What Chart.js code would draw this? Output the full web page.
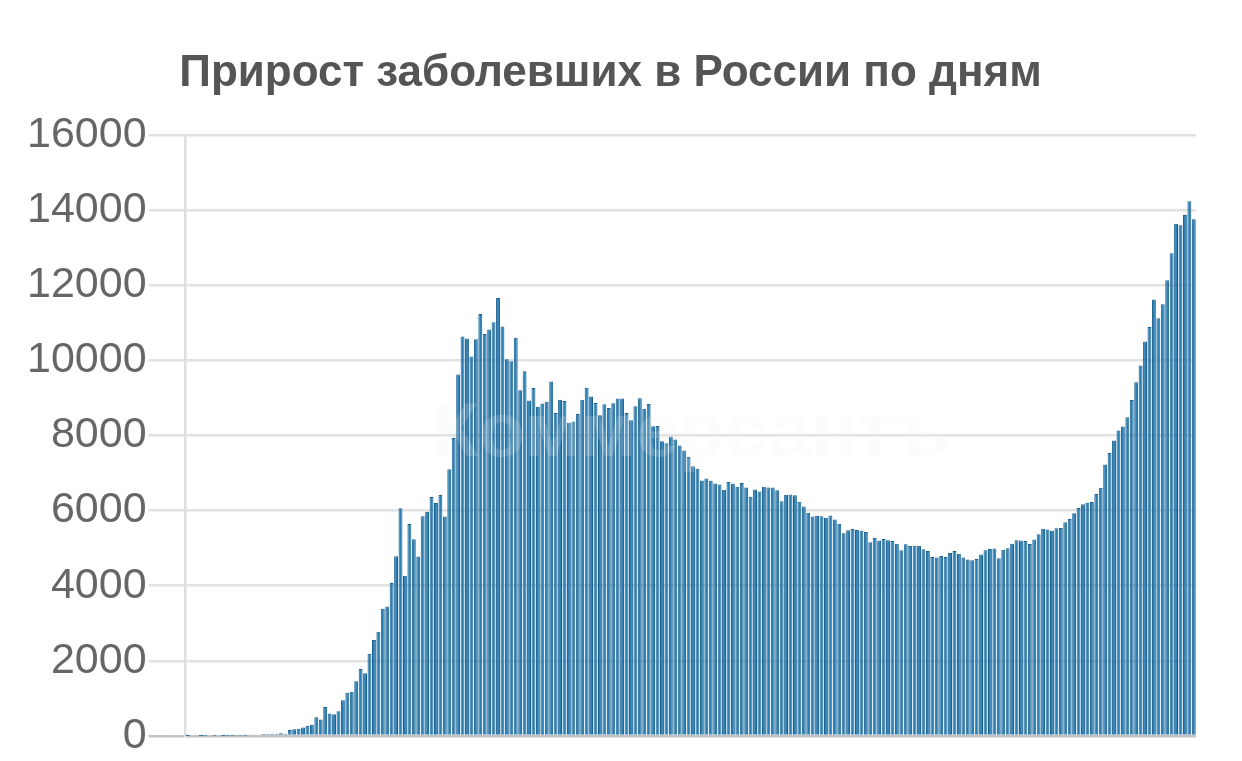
<!DOCTYPE html>
<html>
<head>
<meta charset="utf-8">
<script src="https://cdn.jsdelivr.net/npm/chart.js@4/dist/chart.umd.min.js"></script>
<style>
  html, body { margin: 0; padding: 0; background: #ffffff; }
  #wrap { width: 1242px; height: 761px; position: relative; }
</style>
</head>
<body>
<div id="wrap"><canvas id="c" width="1242" height="761"></canvas></div>
<script>
// Daily new cases, Russia, 2 Mar – 15 Oct 2020
const march = [1, 0, 0, 1, 9, 0, 4, 0, 3, 8, 6, 11, 14, 4, 27, 24, 33, 52, 54, 53, 61, 71, 57, 163, 182, 196, 228, 270, 302, 501];
const april = [440, 771, 601, 582, 658, 954, 1154, 1175, 1459, 1786, 1667, 2186, 2558, 2774, 3388, 3448, 4070, 4785, 6060, 4268, 5642, 5236, 4774, 5849, 5966, 6361, 6198, 6411, 5841, 7099];
const may = [7933, 9623, 10633, 10581, 10102, 10559, 11231, 10699, 10817, 11012, 11656, 10899, 10028, 9974, 10598, 9200, 9709, 8926, 9263, 8764, 8849, 8894, 9434, 8599, 8946, 8915, 8338, 8371, 8572, 8952, 9268];
const june = [9035, 8863, 8536, 8831, 8726, 8855, 8984, 8985, 8595, 8404, 8779, 8987, 8706, 8835, 8246, 8248, 7843, 7790, 7972, 7889, 7728, 7600, 7425, 7176, 7113, 6800, 6852, 6791, 6719, 6693];
const july = [6556, 6760, 6718, 6632, 6736, 6611, 6368, 6562, 6509, 6635, 6615, 6611, 6537, 6248, 6422, 6428, 6406, 6234, 6109, 5940, 5842, 5862, 5848, 5811, 5871, 5765, 5650, 5395, 5475, 5509, 5482];
const august = [5462, 5427, 5159, 5267, 5204, 5241, 5212, 5189, 5118, 4945, 5102, 5057, 5065, 5061, 4969, 4921, 4766, 4748, 4790, 4767, 4870, 4921, 4852, 4748, 4696, 4676, 4711, 4829, 4941, 4980, 4993];
const september = [4729, 4960, 5000, 5115, 5207, 5200, 5188, 5110, 5230, 5370, 5518, 5495, 5465, 5530, 5536, 5690, 5775, 5925, 6068, 6170, 6205, 6227, 6440, 6604, 7228, 7530, 7866, 8132, 8238, 8486];
const october = [8945, 9412, 9859, 10499, 10888, 11615, 11115, 11493, 12126, 12846, 13634, 13592, 13868, 14231, 13754];

const months = [
  { num: '03', first: 2, values: march },
  { num: '04', first: 1, values: april },
  { num: '05', first: 1, values: may },
  { num: '06', first: 1, values: june },
  { num: '07', first: 1, values: july },
  { num: '08', first: 1, values: august },
  { num: '09', first: 1, values: september },
  { num: '10', first: 1, values: october }
];

const categories = [];
const cases = [];
months.forEach(m => {
  m.values.forEach((v, i) => {
    categories.push((m.first + i) + '.' + m.num + '.2020');
    cases.push(v);
  });
});

const yTicks = [0, 2000, 4000, 6000, 8000, 10000, 12000, 14000, 16000];
const chartTitle = 'Прирост заболевших в России по дням';
const watermarkText = 'Коммерсантъ';

const watermark = {
  id: 'watermark',
  afterDatasetsDraw(chart) {
    const a = chart.chartArea;
    const ctx = chart.ctx;
    ctx.save();
    ctx.font = 'bold 76px "Liberation Sans", Arial, sans-serif';
    ctx.textAlign = 'center';
    ctx.textBaseline = 'middle';
    ctx.fillStyle = 'rgba(236,236,236,0.18)';
    ctx.fillText(watermarkText, (a.left + a.right) / 2, (a.top + a.bottom) / 2);
    ctx.restore();
  }
};

new Chart(document.getElementById('c'), {
  type: 'bar',
  data: {
    labels: categories,
    datasets: [{
      data: cases,
      backgroundColor: '#2c80b4',
      borderColor: '#1a6090',
      borderWidth: 1,
      barPercentage: 0.88,
      categoryPercentage: 1.0
    }]
  },
  options: {
    responsive: false,
    animation: false,
    devicePixelRatio: 1,
    layout: { padding: { left: 25, right: 46, top: 0, bottom: 25 } },
    plugins: {
      legend: { display: false },
      tooltip: { enabled: false },
      title: {
        display: true,
        text: chartTitle,
        color: '#555555',
        font: { family: '"Liberation Sans", Arial, sans-serif', size: 44, weight: 'bold' },
        padding: { top: 47, bottom: 35 }
      }
    },
    scales: {
      x: {
        display: false
      },
      y: {
        min: 0,
        max: 16000,
        afterBuildTicks(axis) { axis.ticks = yTicks.map(v => ({ value: v })); },
        ticks: {
          color: '#666666',
          padding: 2,
          font: { family: '"Liberation Sans", Arial, sans-serif', size: 43, lineHeight: 1.0 },
          callback: v => String(v)
        },
        grid: {
          color: ctx => (ctx.tick && ctx.tick.value === 0) ? '#c4c4c4' : '#e2e2e2',
          lineWidth: 2.5,
          tickLength: 37,
          drawTicks: true
        },
        border: { display: true, color: '#dedede', width: 2.5 }
      }
    }
  },
  plugins: [watermark]
});
</script>
</body>
</html>
